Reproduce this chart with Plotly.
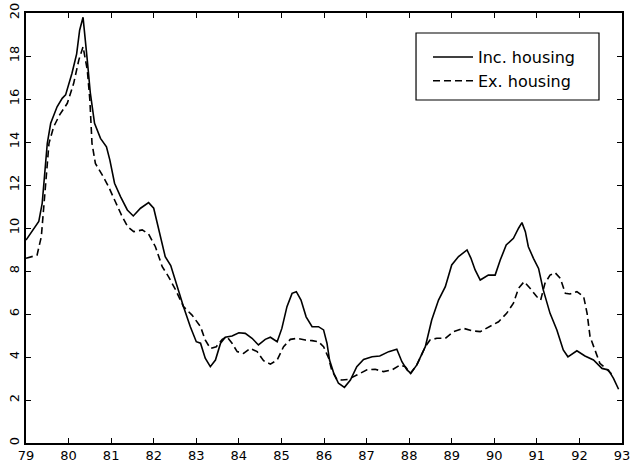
import plotly.graph_objects as go

# Inc. housing (solid)
inc_x = [79.00, 79.30, 79.38, 79.50, 79.58, 79.73, 79.85, 79.93, 80.08, 80.19, 80.26, 80.34,
         80.44, 80.51, 80.61, 80.75, 80.89, 80.97, 81.08, 81.22, 81.38, 81.52, 81.69, 81.88,
         82.00, 82.16, 82.27, 82.40, 82.55, 82.70, 82.86, 83.00, 83.10, 83.21, 83.33, 83.45,
         83.57, 83.68, 83.84, 84.00, 84.15, 84.31, 84.46, 84.62, 84.74, 84.90, 85.01, 85.13,
         85.25, 85.35, 85.46, 85.58, 85.72, 85.87, 85.99, 86.07, 86.13, 86.23, 86.34, 86.48,
         86.62, 86.77, 86.93, 87.13, 87.31, 87.52, 87.71, 87.83, 87.95, 88.04, 88.18, 88.38,
         88.53, 88.69, 88.85, 89.00, 89.16, 89.36, 89.45, 89.55, 89.67, 89.86, 90.02, 90.14,
         90.28, 90.45, 90.57, 90.65, 90.73, 90.80, 90.92, 91.04, 91.15, 91.31, 91.47, 91.62,
         91.73, 91.94, 92.13, 92.33, 92.53, 92.68, 92.80, 92.92]
inc_y = [9.44, 10.3, 11.15, 13.94, 14.87, 15.64, 16.03, 16.19, 17.2, 18.1, 19.2, 19.8,
         17.8, 16.3, 14.87, 14.17, 13.78, 13.16, 12.08, 11.46, 10.84, 10.56, 10.92, 11.18,
         10.92, 9.6, 8.67, 8.25, 7.27, 6.34, 5.41, 4.71, 4.64, 3.94, 3.55, 3.86,
         4.64, 4.92, 4.98, 5.13, 5.10, 4.87, 4.56, 4.82, 4.92, 4.71, 5.33, 6.34,
         6.96, 7.04, 6.65, 5.87, 5.41, 5.41, 5.26, 4.64, 3.86, 3.24, 2.78, 2.59,
         2.93, 3.55, 3.89, 4.01, 4.05, 4.25, 4.36, 3.78, 3.40, 3.24, 3.63, 4.48,
         5.72, 6.65, 7.27, 8.28, 8.67, 8.98, 8.6, 8.05, 7.58, 7.81, 7.81, 8.51,
         9.21, 9.52, 9.99, 10.25, 9.83, 9.13, 8.59, 8.12, 7.12, 6.03, 5.26, 4.33,
         4.01, 4.29, 4.05, 3.86, 3.47, 3.40, 3.01, 2.50]

# Ex. housing (dashed)
ex_x = [79.00, 79.26, 79.36, 79.43, 79.54, 79.65, 79.79, 79.97, 80.12, 80.24, 80.34, 80.44,
        80.50, 80.55, 80.63, 80.79, 80.94, 81.10, 81.26, 81.39, 81.53, 81.73, 81.88, 82.04,
        82.20, 82.35, 82.52, 82.70, 82.90, 83.10, 83.21, 83.33, 83.47, 83.61, 83.72, 83.84,
        83.96, 84.11, 84.27, 84.43, 84.58, 84.74, 84.90, 85.05, 85.21, 85.37, 85.56, 85.72,
        85.87, 85.99, 86.11, 86.18, 86.30, 86.42, 86.57, 86.77, 87.01, 87.20, 87.40, 87.60,
        87.79, 87.91, 88.03, 88.18, 88.38, 88.49, 88.65, 88.85, 89.04, 89.28, 89.47, 89.67,
        89.90, 90.10, 90.29, 90.45, 90.57, 90.70, 90.84, 91.00, 91.09, 91.19, 91.31, 91.43,
        91.55, 91.67, 91.78, 91.94, 92.10, 92.18, 92.25, 92.37, 92.48, 92.64, 92.76]
ex_y = [8.59, 8.74, 9.6, 11.46, 13.94, 14.71, 15.26, 15.80, 16.73, 17.81, 18.43, 17.35,
        15.95, 13.94, 13.0, 12.47, 11.92, 11.22, 10.53, 10.06, 9.83, 9.91, 9.72, 9.13,
        8.2, 7.73, 7.1, 6.34, 5.95, 5.41, 4.79, 4.40, 4.48, 4.82, 4.94, 4.64,
        4.25, 4.17, 4.40, 4.25, 3.83, 3.67, 3.86, 4.48, 4.82, 4.87, 4.79, 4.76,
        4.71, 4.48, 3.94, 3.40, 2.96, 2.93, 2.96, 3.16, 3.40, 3.43, 3.32, 3.40,
        3.63, 3.55, 3.24, 3.63, 4.48, 4.79, 4.87, 4.87, 5.18, 5.33, 5.22, 5.18,
        5.41, 5.64, 6.03, 6.5, 7.2, 7.5, 7.2, 6.8, 6.65, 7.43, 7.81, 7.92,
        7.66, 6.96, 6.93, 7.04, 6.8, 6.03, 4.94, 4.33, 3.71, 3.43, 3.2]

x_ticks = list(range(79, 94))
x_labels = [str(v) for v in x_ticks]
y_ticks = list(range(0, 21, 2))

fig = go.Figure()
fig.add_trace(go.Scatter(x=inc_x, y=inc_y, mode="lines", name="Inc. housing",
                         line=dict(color="black", width=1.6)))
fig.add_trace(go.Scatter(x=ex_x, y=ex_y, mode="lines", name="Ex. housing",
                         line=dict(color="black", width=1.6, dash="7px,4px")))

axis_common = dict(showgrid=False, zeroline=False, showline=True, linecolor="black",
                   linewidth=1.5, mirror="ticks", ticks="inside", ticklen=5,
                   tickwidth=1.2, tickcolor="black", automargin=False,
                   tickfont=dict(family="DejaVu Sans", size=13, color="black"))

fig.update_xaxes(range=[79, 93], tickvals=x_ticks, ticktext=x_labels, **axis_common)
fig.update_yaxes(range=[0, 20], tickvals=y_ticks, tickangle=-90, **axis_common)

# legend frame
fig.add_shape(type="rect", xref="paper", yref="paper",
              x0=0.6544, x1=0.9614, y0=0.7977, y1=0.9535,
              line=dict(color="black", width=1.2), fillcolor="rgba(0,0,0,0)")

fig.update_layout(
    width=631, height=469,
    margin=dict(l=26, r=9, t=13, b=26, autoexpand=False),
    paper_bgcolor="white", plot_bgcolor="white",
    showlegend=True,
    legend=dict(x=0.6745, y=0.937, xanchor="left", yanchor="top",
                bgcolor="rgba(0,0,0,0)", borderwidth=0,
                font=dict(family="DejaVu Sans", size=16, color="black"),
                itemwidth=40, tracegroupgap=0),
)

fig.write_html(
    "out.html",
    config={"displayModeBar": False},
    post_script="document.body.style.margin='0';document.body.style.padding='0';"
                "document.body.style.overflow='hidden';",
)
